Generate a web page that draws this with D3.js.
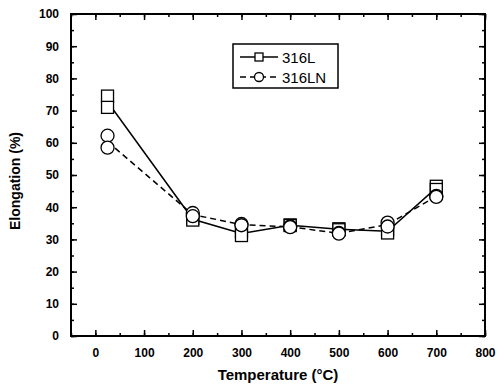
<!DOCTYPE html>
<html>
<head>
<meta charset="utf-8">
<script src="https://cdn.jsdelivr.net/npm/d3@7"></script>
<style>
body { margin: 0; background: #fff; }
text { font-family: "Liberation Sans", Arial, sans-serif; font-weight: bold; fill: #000; }
</style>
</head>
<body>
<script>
// temperatures (deg C) and two measurements per temperature
var temps = [25, 200, 300, 400, 500, 600, 700];
var s316L_a = [74.5, 36.5, 32.5, 34.5, 33.3, 33.0, 46.5];
var s316L_b = [71.0, 36.0, 31.2, 34.3, 33.0, 32.0, 45.5];
var s316LN_a = [62.2, 38.2, 34.8, 34.0, 32.0, 35.2, 43.5];
var s316LN_b = [58.5, 37.2, 34.4, 33.8, 31.8, 34.0, 43.2];
var xTicks = [0, 100, 200, 300, 400, 500, 600, 700, 800];
var yTicks = [0, 10, 20, 30, 40, 50, 60, 70, 80, 90, 100];

var w = 497, h = 387;
var pLeft = 71, pRight = 485, pTop = 14, pBottom = 336;

var svg = d3.select("body").append("svg")
            .attr("width", w)
            .attr("height", h);

var xScale = d3.scaleLinear().domain([-50, 800]).range([pLeft, pRight]);
var yScale = d3.scaleLinear().domain([0, 100]).range([pBottom, pTop]);

/*** axes, ticks point inward ***/
function drawAxis(axis, tx, ty, cls) {
  var g = svg.append("g")
     .attr("class", cls)
     .attr("transform", "translate(" + tx + "," + ty + ")")
     .call(axis);
  g.select(".domain").remove();
  g.selectAll("line").attr("stroke", "#000").attr("stroke-width", 1.5);
  return g;
}
var minorX = d3.range(-50, 801, 50);
var minorY = d3.range(0, 101, 5);

var xb = drawAxis(d3.axisBottom(xScale).tickValues(xTicks).tickSizeInner(-6).tickPadding(12).tickFormat(d3.format("d")), 0, pBottom, "xaxis");
xb.selectAll("text").style("font-size", "12px");
drawAxis(d3.axisBottom(xScale).tickValues(minorX).tickSizeInner(-3).tickFormat(""), 0, pBottom, "xminor");
drawAxis(d3.axisTop(xScale).tickValues(xTicks).tickSizeInner(-6).tickFormat(""), 0, pTop, "xtop");
drawAxis(d3.axisTop(xScale).tickValues(minorX).tickSizeInner(-3).tickFormat(""), 0, pTop, "xtopminor");

var yl = drawAxis(d3.axisLeft(yScale).tickValues(yTicks).tickSizeInner(-6).tickPadding(12), pLeft, 0, "yaxis");
yl.selectAll("text").style("font-size", "12px");
drawAxis(d3.axisLeft(yScale).tickValues(minorY).tickSizeInner(-3).tickFormat(""), pLeft, 0, "yminor");
drawAxis(d3.axisRight(yScale).tickValues(yTicks).tickSizeInner(-6).tickFormat(""), pRight, 0, "yright");
drawAxis(d3.axisRight(yScale).tickValues(minorY).tickSizeInner(-3).tickFormat(""), pRight, 0, "yrightminor");

svg.append("rect")
   .attr("x", pLeft).attr("y", pTop)
   .attr("width", pRight - pLeft).attr("height", pBottom - pTop)
   .attr("fill", "none").attr("stroke", "#000").attr("stroke-width", 2);

/*** axis titles ***/
svg.append("text")
   .attr("x", (pLeft + pRight) / 2).attr("y", 380)
   .attr("text-anchor", "middle")
   .style("font-size", "15px")
   .text("Temperature (°C)");
svg.append("text")
   .attr("transform", "translate(20," + 181 + ")rotate(-90)")
   .attr("text-anchor", "middle")
   .style("font-size", "14px")
   .text("Elongation (%)");

/*** series ***/
var series = [
  { name: "316L", a: s316L_a, b: s316L_b, dash: null, shape: "square" },
  { name: "316LN", a: s316LN_a, b: s316LN_b, dash: "6,4", shape: "circle" }
];

var line = d3.line()
             .x(function(d) { return xScale(d.t); })
             .y(function(d) { return yScale(d.v); });

series.forEach(function(s) {
  var mean = temps.map(function(t, i) { return { t: t, v: (s.a[i] + s.b[i]) / 2 }; });
  svg.append("path")
     .datum(mean)
     .attr("d", line)
     .attr("fill", "none")
     .attr("stroke", "#000")
     .attr("stroke-width", 1.5)
     .attr("stroke-dasharray", s.dash);
});

function marker(g, shape, x, y, size) {
  if (shape == "square") {
    g.append("rect")
     .attr("x", x - size / 2).attr("y", y - size / 2)
     .attr("width", size).attr("height", size)
     .attr("fill", "#fff").attr("stroke", "#000").attr("stroke-width", 1.3);
  } else {
    g.append("circle")
     .attr("cx", x).attr("cy", y).attr("r", size / 2 + 0.5)
     .attr("fill", "#fff").attr("stroke", "#000").attr("stroke-width", 1.3);
  }
}

series.forEach(function(s) {
  var g = svg.append("g");
  temps.forEach(function(t, i) {
    marker(g, s.shape, xScale(t), yScale(s.a[i]), 12);
    marker(g, s.shape, xScale(t), yScale(s.b[i]), 12);
  });
});

/*** legend ***/
var lg = svg.append("g").attr("transform", "translate(233,44)");
lg.append("rect")
  .attr("width", 105).attr("height", 44)
  .attr("fill", "#fff").attr("stroke", "#000").attr("stroke-width", 1.5);
series.forEach(function(s, i) {
  var yy = 13 + i * 20;
  lg.append("line")
    .attr("x1", 7).attr("x2", 45).attr("y1", yy).attr("y2", yy)
    .attr("stroke", "#000").attr("stroke-width", 1.5)
    .attr("stroke-dasharray", s.dash);
  marker(lg, s.shape, 26, yy, 8);
  lg.append("text")
    .attr("x", 49).attr("y", yy + 5.5)
    .style("font-size", "15px")
    .style("font-weight", "normal")
    .text(s.name);
});
</script>
</body>
</html>
